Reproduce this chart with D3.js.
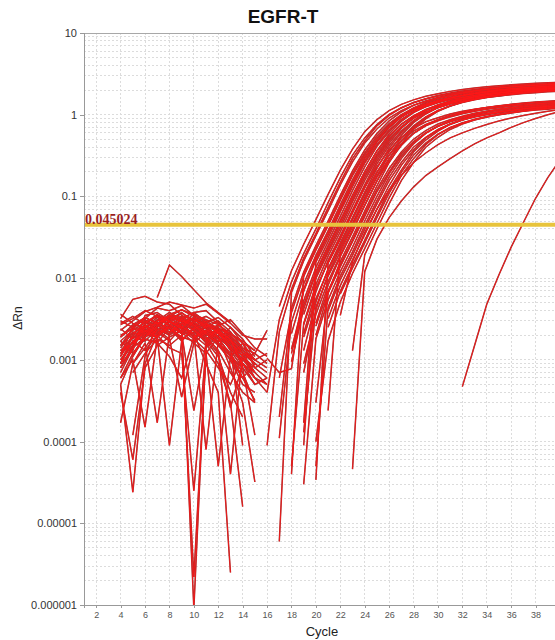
<!DOCTYPE html>
<html>
<head>
<meta charset="utf-8">
<script src="https://cdnjs.cloudflare.com/ajax/libs/d3/7.8.5/d3.min.js"></script>
<style>
  body { margin: 0; background: #fff; }
  text { font-family: Arial, "Liberation Sans", sans-serif; }
</style>
</head>
<body>
<div id="grafico"></div>
<script>
// ---- datos ----
var titulo = "EGFR-T";
var umbral = 0.045024;
var umbralTexto = "0.045024";
var yTicks = [10, 1, 0.1, 0.01, 0.001, 0.0001, 0.00001, 0.000001];
var yTickTextos = ["10", "1", "0.1", "0.01", "0.001", "0.0001", "0.00001", "0.000001"];
var xTicks = [2, 4, 6, 8, 10, 12, 14, 16, 18, 20, 22, 24, 26, 28, 30, 32, 34, 36, 38, 40];

// ruido de linea base, ciclos 4..16
var ruidoInicio = 4;
var ruido = [
  [.0013,.0016,.0022,.0030,.0035,.0033,.0028,.0021,.0016,.0011,.0008,null,null],
  [.0008,.0015,.0026,.0028,.0024,.0031,.0027,.0019,.0013,.0007,.0004,.0003,null],
  [null,.0011,.0019,.0025,.0033,.0029,.0032,.0024,.0016,.0012,.0006,.0009,.0007],
  [.0020,.0024,.0021,.0027,.0036,.0041,.0034,.0026,.0022,.0015,.0011,null,null],
  [.0005,.000024,.0009,.0021,.0025,.0018,.0022,.0017,.0011,.0004,.0002,null,null],
  [.0032,.0055,.0060,.0051,.0048,.0035,.0030,.0027,.0025,.0019,null,null,null],
  [null,null,null,.0058,.0145,.0105,.0072,.0050,.0038,.0029,null,null,null],
  [.0009,.0013,.0035,.0038,.0030,.0024,.0038,.0040,.0029,.0017,.0013,.0010,null],
  [null,.0007,.0012,.0018,.0015,.0020,.0024,.0016,.0009,.0003,.000016,null,null],
  [.0011,.0019,.0017,.0024,.0020,.0026,.0000009,.0015,.0022,.0018,.0012,.0009,null],
  [.0006,.0012,.0018,.0016,.0011,.0006,.0019,.0023,.0021,.0014,.0010,.0012,.0023],
  [.0015,.0021,.0027,.0020,.0014,.0012,.000025,.0014,.0020,.0017,.0013,.0009,null],
  [.0036,.0028,.0024,.0031,.0027,.0022,.0030,.0034,.0028,.0019,.0012,.0007,.0005],
  [.00017,.0009,.0014,.0023,.0029,.0034,.0027,.0020,.0023,.0018,.0009,.0005,null],
  [.0012,.0020,.0030,.0022,.0017,.0025,.0021,.0009,.0004,.0000025,null,null,null],
  [null,.0009,.0016,.00017,.0021,.0032,.0038,.0029,.0021,.0016,.0011,.0006,null],
  [.0015,.0024,.0032,.0043,.0040,.0046,.0035,.0029,.0033,.0025,.0018,.0011,null],
  [.0005,.0011,.0021,.0019,.0025,.0018,.0000022,.0012,.0019,.0011,.0006,.00032,null],
  [.0023,.0030,.0039,.0044,.0051,.0047,.0043,.0048,.0037,.0028,.0020,.0018,.0018],
  [.0009,.0017,.0013,.0020,.0027,.0021,.00024,.0016,.0024,.0021,.0016,.0010,.0008],
  [.0013,.0019,.0023,.0016,.0025,.0019,.0017,.0026,.0019,.0008,.0003,.000032,null],
  [.0028,.0034,.0027,.0035,.0030,.0037,.0031,.0025,.0030,.0022,.0014,.0012,.0009],
  [null,.00012,.0011,.0027,.0022,.0026,.0019,.0021,.0015,.0010,.0005,.0004,null],
  [.0007,.0014,.0025,.0033,.0026,.0030,.0024,.0018,.0012,.00026,.0009,.0006,.0004],
  [.0019,.0027,.0033,.0028,.0034,.0041,.0036,.0031,.0027,.0021,.0017,.0013,null],
  [.0010,.0017,.0021,.0029,.0024,.0017,.0024,.0028,.0023,.0015,.00009,null,null],
  [.0004,.00006,.0008,.0015,.0019,.0023,.0018,.0013,.0008,.0005,.0011,.0007,null],
  [.0017,.0012,.0019,.0026,.0034,.0029,.0023,.0017,.0026,.0031,.0021,.0014,.0011],
  [.0010,.0015,.0023,.0019,.0027,.0022,.0016,.0012,.00005,.0011,.0016,.0013,null],
  [null,.0021,.0026,.0019,.0030,.0026,.0021,.00008,.0017,.0025,.0016,.0008,.0006],
  [.0014,.0022,.0019,.0028,.0032,.0027,.0033,.0025,.0019,.0014,.0009,.0007,null],
  [.0011,.0026,.0031,.0024,.0021,.0028,.0023,.0018,.0024,.0016,.0012,null,null],
  [null,.0016,.0028,.0036,.0029,.0024,.0019,.0027,.0022,.0013,.0008,.0005,.0006],
  [.0024,.0018,.0026,.0021,.0031,.0038,.0029,.0022,.0017,.0020,.0013,.0009,null],
  [.0006,.0010,.00015,.0019,.0026,.0021,.0029,.0024,.0018,.0012,.0007,.0003,null],
  [.0017,.0023,.0029,.0034,.0027,.0032,.0026,.0030,.0024,.0017,.0011,.0008,.0010],
  [.0009,.0020,.0024,.0019,.00009,.0017,.0025,.0021,.0016,.0010,.0006,null,null],
  [.0027,.0032,.0040,.0034,.0029,.0025,.0033,.0028,.0021,.0015,.0010,.0007,null],
  [.0012,.0016,.0020,.0026,.0022,.0028,.0020,.0015,.0022,.0018,.0008,.00012,null],
  [.0019,.0025,.0022,.0030,.0038,.0031,.0025,.0019,.0013,.00004,.0012,.0010,null],
  [.0008,.0014,.0019,.0023,.0018,.00035,.0016,.0022,.0019,.0014,.0009,.0006,.0005],
  [.0030,.0025,.0033,.0028,.0035,.0030,.0026,.0022,.0027,.0020,.0014,.0010,.0012]
];

// curvas de amplificacion: ciclo inicial y valores
var ampInicio = [17,16,17,17,18,17,18,19,18,19,19,20,19,21,20,16,19,
                 19,19,20,20,20,21,21,22,23,23,22,32,
                 16,17,18,18,19,20,18,19,19,21,20,19];
var amp = [
  [.0045,.0123,.026,.052,.106,.21,.38,.62,.87,1.12,1.34,1.52,1.68,1.81,1.93,2.03,2.12,2.2,2.26,2.32,2.37,2.42,2.46,2.5],
  [.00009,.0022,.0073,.0176,.035,.073,.149,.29,.48,.73,.98,1.21,1.41,1.57,1.72,1.84,1.95,2.04,2.12,2.19,2.26,2.31,2.35,2.4,2.43],
  [.000006,.0067,.0163,.033,.067,.138,.265,.45,.67,.91,1.12,1.31,1.46,1.59,1.7,1.81,1.89,1.97,2.03,2.09,2.14,2.18,2.22,2.25],
  [.0002,.0043,.0119,.025,.05,.103,.205,.37,.59,.84,1.08,1.3,1.47,1.62,1.75,1.86,1.95,2.04,2.12,2.18,2.24,2.29,2.33,2.38],
  [.00004,.011,.023,.046,.095,.19,.34,.55,.78,1.0,1.2,1.36,1.5,1.62,1.72,1.81,1.89,1.96,2.02,2.07,2.12,2.16,2.2],
  [.0006,.0038,.0105,.022,.044,.09,.18,.32,.52,.74,.95,1.14,1.29,1.43,1.54,1.63,1.72,1.8,1.86,1.92,1.97,2.01,2.05,2.09],
  [.0021,.0069,.0168,.034,.069,.142,.27,.46,.69,.93,1.16,1.34,1.5,1.64,1.75,1.86,1.94,2.03,2.09,2.15,2.2,2.25,2.29],
  [.00017,.0157,.031,.065,.132,.255,.43,.65,.87,1.08,1.25,1.4,1.53,1.64,1.73,1.81,1.89,1.95,2.01,2.06,2.1,2.14],
  [.00095,.0042,.0117,.024,.049,.1,.2,.36,.58,.83,1.06,1.27,1.44,1.59,1.72,1.82,1.92,2.0,2.08,2.14,2.19,2.25,2.29],
  [.00009,.0107,.022,.045,.092,.184,.33,.53,.76,.97,1.16,1.32,1.46,1.57,1.67,1.76,1.83,1.9,1.96,2.01,2.06,2.1],
  [.0021,.0068,.0165,.033,.068,.139,.27,.45,.68,.92,1.13,1.32,1.47,1.61,1.72,1.82,1.91,1.99,2.05,2.11,2.16,2.2],
  [.000034,.0152,.03,.063,.128,.25,.42,.63,.85,1.05,1.22,1.36,1.48,1.59,1.68,1.76,1.83,1.89,1.95,2.0,2.03],
  [.0007,.0041,.0112,.0235,.047,.097,.194,.35,.56,.8,1.02,1.22,1.39,1.53,1.65,1.75,1.85,1.93,2.0,2.06,2.11,2.16],
  [.00024,.0216,.043,.089,.179,.32,.52,.73,.94,1.13,1.28,1.41,1.52,1.62,1.7,1.78,1.84,1.9,1.95,1.99],
  [.002,.0066,.016,.032,.066,.135,.26,.44,.66,.89,1.1,1.28,1.43,1.56,1.67,1.77,1.85,1.93,1.99,2.05,2.1],
  [.00105,.0007,.00078,.0073,.0176,.035,.073,.149,.29,.48,.73,.98,1.21,1.41,1.57,1.72,1.84,1.95,2.04,2.12,2.19,2.26,2.31,2.35,2.4],
  [.0036,.0099,.0207,.041,.086,.171,.31,.5,.7,.9,1.08,1.22,1.35,1.46,1.55,1.63,1.7,1.76,1.82,1.86,1.91,1.94],
  [.0027,.0075,.0156,.031,.065,.129,.23,.37,.53,.68,.82,.92,1.02,1.1,1.17,1.23,1.29,1.33,1.37,1.41,1.44,1.47],
  [.00013,.0044,.0106,.021,.044,.089,.172,.29,.44,.59,.73,.84,.94,1.03,1.1,1.17,1.22,1.27,1.31,1.35,1.39,1.41],
  [.0026,.007,.0147,.029,.061,.122,.22,.35,.5,.64,.77,.87,.96,1.04,1.1,1.16,1.21,1.25,1.29,1.32,1.36],
  [.0003,.0066,.0138,.028,.057,.114,.2,.33,.47,.6,.72,.82,.9,.97,1.03,1.09,1.13,1.18,1.21,1.24,1.27],
  [.00005,.0044,.0106,.021,.044,.089,.172,.29,.44,.59,.73,.84,.94,1.03,1.1,1.17,1.22,1.27,1.31,1.35,1.39],
  [.004,.0096,.019,.04,.081,.156,.26,.4,.53,.66,.77,.86,.94,1.0,1.06,1.11,1.16,1.19,1.23,1.26],
  [.0025,.0069,.0145,.029,.06,.12,.21,.35,.49,.63,.76,.86,.95,1.02,1.08,1.14,1.19,1.23,1.27,1.3],
  [.0064,.0133,.027,.055,.11,.197,.32,.45,.58,.7,.79,.87,.94,1.0,1.05,1.1,1.14,1.17,1.2],
  [.0013,.0192,.04,.081,.156,.26,.4,.53,.66,.77,.86,.94,1.0,1.06,1.11,1.16,1.19,1.23],
  [.000046,.012,.03,.055,.088,.13,.18,.23,.29,.36,.44,.52,.6,.7,.8,.9,1.0,1.1],
  [.0035,.016,.036,.07,.12,.18,.26,.34,.43,.52,.6,.68,.76,.84,.91,.98,1.04,1.1,1.16],
  [.00047,.0015,.0048,.011,.024,.048,.095,.17,.28],
  [.0004,.0031,.009,.02,.04,.084,.17,.32,.52,.76,1.01,1.22,1.4,1.56,1.69,1.8,1.9,1.98,2.07,2.12,2.18,2.24,2.28,2.32,2.35],
  [.00011,.0029,.0085,.019,.038,.079,.16,.3,.49,.72,.95,1.15,1.32,1.47,1.59,1.7,1.79,1.87,1.95,2.0,2.06,2.11,2.15,2.19],
  [.00135,.0053,.0135,.028,.057,.118,.23,.41,.62,.87,1.09,1.29,1.46,1.59,1.72,1.82,1.9,1.99,2.06,2.12,2.17,2.22,2.26],
  [.00005,.0028,.0083,.0186,.037,.077,.157,.29,.48,.71,.93,1.13,1.29,1.44,1.56,1.67,1.75,1.83,1.91,1.96,2.02,2.07,2.11],
  [.0013,.0051,.013,.027,.055,.113,.22,.39,.6,.84,1.05,1.24,1.4,1.53,1.65,1.75,1.83,1.91,1.98,2.04,2.09,2.13],
  [.0028,.0082,.0184,.037,.077,.155,.29,.48,.7,.92,1.12,1.28,1.43,1.54,1.65,1.74,1.81,1.89,1.94,2.0,2.05],
  [.0012,.0047,.012,.025,.051,.104,.2,.36,.55,.77,.97,1.14,1.29,1.41,1.52,1.61,1.68,1.76,1.82,1.88,1.92,1.96,2.0],
  [.0009,.0036,.0091,.019,.039,.079,.154,.27,.42,.59,.74,.87,.98,1.07,1.16,1.23,1.28,1.34,1.39,1.43,1.46,1.49],
  [.00003,.0018,.0054,.012,.024,.05,.1,.19,.31,.45,.6,.72,.83,.93,1.0,1.07,1.13,1.18,1.23,1.26,1.3,1.33],
  [.0032,.0081,.0167,.034,.07,.136,.24,.37,.52,.65,.77,.87,.95,1.02,1.09,1.13,1.18,1.23,1.26,1.3],
  [.0001,.0017,.0051,.0114,.023,.047,.096,.18,.29,.43,.57,.69,.79,.88,.95,1.02,1.07,1.12,1.17,1.2,1.24],
  [.0019,.0056,.0125,.025,.052,.106,.2,.32,.48,.63,.76,.87,.97,1.05,1.12,1.18,1.23,1.29,1.32,1.36,1.39,1.42]
];

// ---- dibujo ----
var width = 555, height = 640;
var plot = {left: 84, right: 560, top: 33, bottom: 605};

var x = d3.scaleLinear().domain([1, 40]).range([plot.left, plot.right]);
var y = d3.scaleLog().domain([0.000001, 10]).range([plot.bottom, plot.top]);

var svg = d3.select('#grafico')
    .append('svg')
        .attr('width', width)
        .attr('height', height);

svg.append('defs').append('clipPath')
    .attr('id', 'recorte')
  .append('rect')
    .attr('x', plot.left)
    .attr('y', plot.top)
    .attr('width', plot.right - plot.left)
    .attr('height', plot.bottom - plot.top);

// grilla punteada
var grilla = svg.append('g').attr('class', 'grilla');
grilla.selectAll('line.h')
    .data(y.ticks())
    .enter()
    .append('line')
        .attr('class', 'h')
        .attr('x1', plot.left).attr('x2', plot.right)
        .attr('y1', d => y(d)).attr('y2', d => y(d));
grilla.selectAll('line.v')
    .data(xTicks)
    .enter()
    .append('line')
        .attr('class', 'v')
        .attr('x1', d => x(d)).attr('x2', d => x(d))
        .attr('y1', plot.top).attr('y2', plot.bottom);
grilla.selectAll('line')
    .attr('stroke', '#dcdcdc')
    .attr('stroke-width', 1)
    .attr('stroke-dasharray', '2,2')
    .attr('shape-rendering', 'crispEdges');

// borde superior
svg.append('line')
    .attr('x1', plot.left).attr('x2', plot.right)
    .attr('y1', plot.top).attr('y2', plot.top)
    .attr('stroke', '#a8a8a8')
    .attr('shape-rendering', 'crispEdges');

// curvas
function puntos(vals, inicio) {
    return vals.map(function (v, i) { return {c: inicio + i, v: v}; });
}
var linea = d3.line()
    .defined(d => d.v != null && d.v > 0)
    .x(d => x(d.c))
    .y(d => y(d.v));

var series = ruido.map(function (r) { return puntos(r, ruidoInicio); })
    .concat(amp.map(function (a, i) { return puntos(a, ampInicio[i]); }));

var curvas = svg.append('g').attr('clip-path', 'url(#recorte)');

curvas.append('g')
    .selectAll('path')
    .data(series)
    .enter()
    .append('path')
        .attr('d', linea)
        .attr('fill', 'none')
        .attr('stroke', '#9a3232')
        .attr('stroke-width', 1.5);

curvas.append('g')
    .selectAll('path')
    .data(series)
    .enter()
    .append('path')
        .attr('d', linea)
        .attr('fill', 'none')
        .attr('stroke', '#ff1616')
        .attr('stroke-width', 0.8);

// linea de umbral
svg.append('line')
    .attr('x1', plot.left).attr('x2', plot.right)
    .attr('y1', y(umbral)).attr('y2', y(umbral))
    .attr('stroke', '#e8c43c')
    .attr('stroke-width', 4);

svg.append('text')
    .attr('x', plot.left + 1)
    .attr('y', y(umbral) - 1)
    .attr('fill', '#9a1e1e')
    .style('font-family', '"Liberation Serif", "Times New Roman", serif')
    .style('font-weight', 'bold')
    .style('font-size', '14px')
    .text(umbralTexto);

// ejes
var ejeY = svg.append('g')
    .attr('transform', 'translate(' + plot.left + ',0)')
    .call(d3.axisLeft(y)
        .tickValues(yTicks)
        .tickFormat((d, i) => yTickTextos[i])
        .tickSize(4)
        .tickPadding(3));
ejeY.selectAll('text').attr('fill', '#333').style('font-size', '11px');

var ejeX = svg.append('g')
    .attr('transform', 'translate(0,' + plot.bottom + ')')
    .call(d3.axisBottom(x)
        .tickValues(xTicks)
        .tickSize(3)
        .tickPadding(4));
ejeX.selectAll('text').attr('fill', '#555').style('font-size', '9px');

svg.selectAll('.domain, .tick line')
    .attr('stroke', '#999')
    .attr('shape-rendering', 'crispEdges');

// textos
svg.append('text')
    .attr('x', 283)
    .attr('y', 23)
    .attr('text-anchor', 'middle')
    .style('font-weight', 'bold')
    .style('font-size', '19px')
    .attr('fill', '#111')
    .text(titulo);

svg.append('text')
    .attr('x', 322)
    .attr('y', 636)
    .attr('text-anchor', 'middle')
    .style('font-size', '13px')
    .attr('fill', '#222')
    .text('Cycle');

svg.append('text')
    .attr('transform', 'translate(22,318) rotate(-90)')
    .attr('text-anchor', 'middle')
    .style('font-size', '12px')
    .attr('fill', '#222')
    .text('ΔRn');
</script>
</body>
</html>
